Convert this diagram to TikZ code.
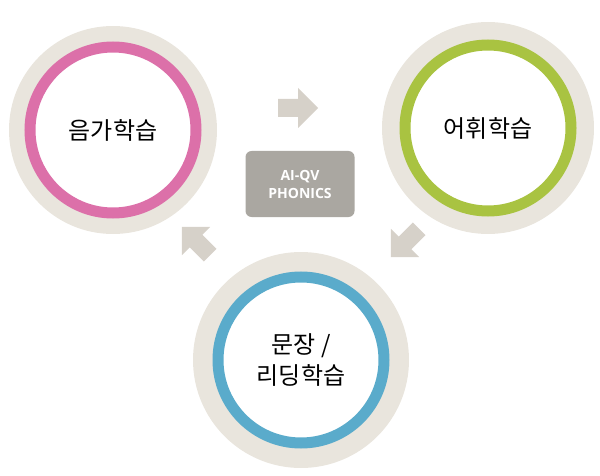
\documentclass[tikz,border=0pt]{standalone}
\usepackage{fontspec}
\newfontfamily\kr{Noto Sans CJK KR}
\setsansfont{Open Sans}
\definecolor{ring_beige}{HTML}{E9E5DD}
\definecolor{arrow_beige}{HTML}{D6D1C9}
\definecolor{box_grey}{HTML}{AAA7A1}
\definecolor{custom_pink}{HTML}{DC70A9}
\definecolor{custom_green}{HTML}{A9C341}
\definecolor{custom_blue}{HTML}{5AABCB}

\tikzset{
  stage/.style={circle, fill=white, draw=#1, line width=11pt, minimum size=166pt,
    inner sep=0pt, align=center, font=\kr\fontsize{24}{31}\selectfont},
  halo/.style={fill=ring_beige},
  pics/blockarrow/.style={code={
    \fill[arrow_beige] (-20,-9) -- (0,-9) -- (0,-20) -- (20,0) -- (0,20) -- (0,9) -- (-20,9) -- cycle;}}
}

\begin{document}
\begin{tikzpicture}[x=1pt, y=-1pt]
  \useasboundingbox (0,0) rectangle (600,476);

  % beige halos behind the three stages
  \fill[halo] (113,130) circle (104);
  \fill[halo] (488,128) circle (106);
  \fill[halo] (301,360) circle (108);

  \node[stage=custom_pink] (sound) at (113,130) {음가학습};
  \node[stage=custom_green] (word) at (488,128) {어휘학습};
  \node[stage=custom_blue] (read) at (301,360) {문장 /\\리딩학습};

  \node[fill=box_grey, rounded corners=6pt, minimum width=109pt, minimum height=66pt,
    text=white, align=center, font=\sffamily\bfseries\fontsize{14}{18}\selectfont]
    (core) at (300,184) {AI-QV\\PHONICS};

  % arrows between stages
  \pic at (298,108) {blockarrow};
  \pic[rotate=-135] at (405,243) {blockarrow};
  \pic[rotate=135] at (196,241) {blockarrow};
\end{tikzpicture}
\end{document}
